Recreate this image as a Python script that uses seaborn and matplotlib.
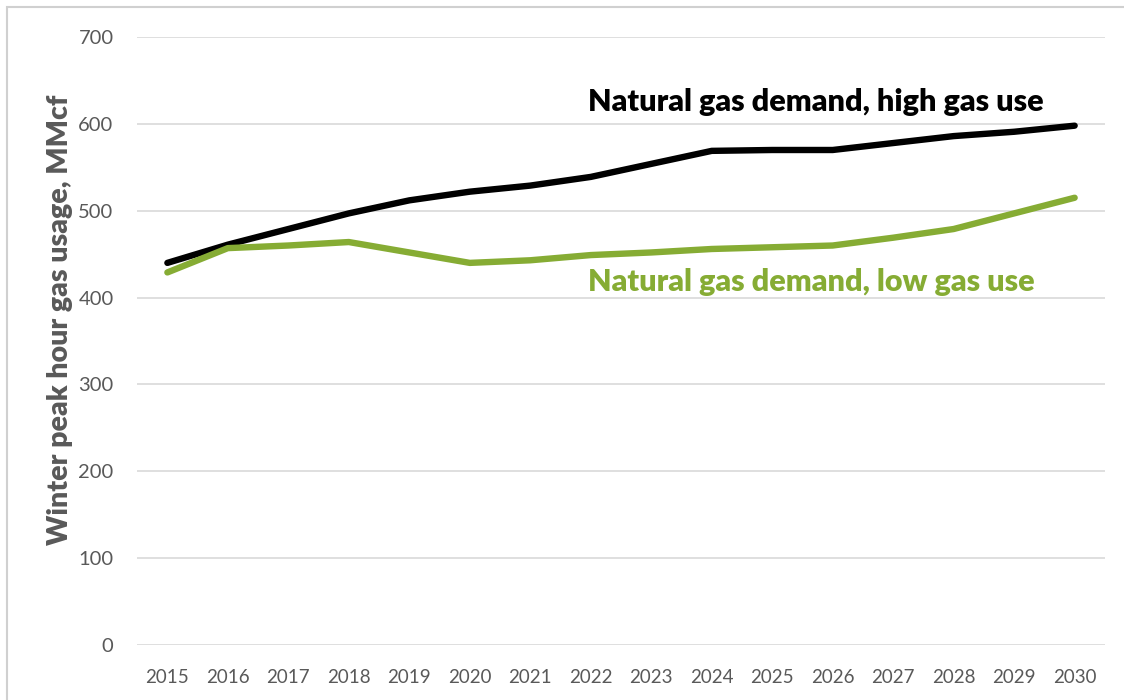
import pandas as pd
import matplotlib.pyplot as plt
import matplotlib.patches as patches
import seaborn as sns

years = list(range(2015, 2031))
high_gas = [440, 461, 479, 497, 512, 522, 529, 539, 554, 569, 570, 570, 578, 586, 591, 598]
low_gas = [429, 457, 460, 464, 452, 440, 443, 449, 452, 456, 458, 460, 469, 479, 497, 515]
series_names = ["Natural gas demand, high gas use", "Natural gas demand, low gas use"]
y_ticks = [0, 100, 200, 300, 400, 500, 600, 700]

df = pd.DataFrame({
    "year": years * 2,
    "value": high_gas + low_gas,
    "series": [series_names[0]] * len(years) + [series_names[1]] * len(years),
})

sns.set_style("white")
plt.rcParams["font.family"] = ["Lato", "DejaVu Sans"]

fig = plt.figure(figsize=(11.24, 7), dpi=100)
ax = fig.add_axes([0.122, 0.0786, 0.861, 0.8684])

green = "#86AC34"
sns.lineplot(data=df, x="year", y="value", hue="series", palette=["#000000", green],
             linewidth=4.6, ax=ax, legend=False, sort=False)

ax.set_xlim(2014.5, 2030.5)
ax.set_ylim(0, 700)
ax.set_yticks(y_ticks)
ax.set_xticks(years)
ax.set_xticklabels([str(y) for y in years])
ax.yaxis.grid(True, color="#D9D9D9", linewidth=1.2)
ax.xaxis.grid(False)
ax.set_axisbelow(True)
for s in ax.spines.values():
    s.set_visible(False)
ax.tick_params(axis="y", length=0, labelsize=14.5, colors="#595959", pad=17)
ax.tick_params(axis="x", length=0, labelsize=13.5, colors="#595959", pad=17)
ax.set_xlabel("")
ax.set_ylabel("")

# y axis title placed in figure coordinates
fig.text(60 / 1124, 1 - 320 / 700, "Winter peak hour gas usage, MMcf", rotation=90,
         fontsize=20.5, fontweight="heavy", color="#595959", ha="center", va="center")

ax.text(2021.95, 625, series_names[0], fontsize=22, fontweight="heavy", color="black",
        va="center", ha="left")
ax.text(2021.95, 418, series_names[1], fontsize=22, fontweight="heavy", color=green,
        va="center", ha="left")

# chart frame
fig.patches.append(patches.Rectangle((7 / 1124, -0.1), 1.2, 1 - 7 / 700 + 0.1,
                                     transform=fig.transFigure, fill=False,
                                     edgecolor="#D0D0D0", linewidth=1.5))

fig.savefig("out.png", dpi=100)
